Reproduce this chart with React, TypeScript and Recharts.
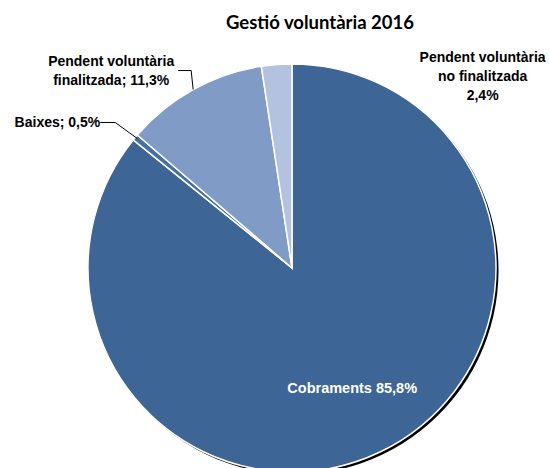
import { Cell, Pie, PieChart } from "recharts"

const names = ["Cobraments", "Baixes", "Pendent voluntària finalitzada", "Pendent voluntària no finalitzada"]
const values = [85.8, 0.5, 11.3, 2.4]
const colors = ["#3D6596", "#4470A8", "#7F9BC6", "#B3C3DF"]
const labelLines = [
  ["Cobraments 85,8%"],
  ["Baixes; 0,5%"],
  ["Pendent voluntària", "finalitzada; 11,3%"],
  ["Pendent voluntària", "no finalitzada", "2,4%"],
]

const data = names.map((name, i) => ({ name, value: values[i] }))

const W = 549
const H = 468
const CX = 292
const CY = 268
const R = 204
const RAD = Math.PI / 180
const font = "'Liberation Sans', Arial, sans-serif"

function edge(cx: number, cy: number, r: number, angle: number) {
  return { x: cx + r * Math.cos(-angle * RAD), y: cy + r * Math.sin(-angle * RAD) }
}

function renderLabel(props: any) {
  const { cx, cy, midAngle, outerRadius, index } = props
  const lines = labelLines[index]
  const txt = { fontFamily: font, fontWeight: 700, fill: "#000", dominantBaseline: "central" as const }
  if (index === 0) {
    const p = edge(cx, cy, outerRadius * 0.65, midAngle)
    return (
      <text x={p.x + 3} y={p.y} textAnchor="middle" {...txt} fill="#fff" fontSize={14.5}>
        {lines[0]}
      </text>
    )
  }
  const e = edge(cx, cy, outerRadius, midAngle)
  if (index === 1) {
    const kx = e.x - 20
    const ky = e.y - 15
    return (
      <g>
        <polyline points={`${e.x + 2},${e.y + 1} ${kx},${ky} ${kx - 15},${ky}`} fill="none" stroke="#000" strokeWidth={1} />
        <text x={kx - 15} y={ky} textAnchor="end" {...txt} fontSize={14}>
          {lines[0]}
        </text>
      </g>
    )
  }
  if (index === 2) {
    const ky = e.y - 19
    return (
      <g>
        <polyline points={`${e.x},${e.y} ${e.x - 2},${ky} ${e.x - 15},${ky}`} fill="none" stroke="#000" strokeWidth={1} />
        <text textAnchor="middle" {...txt} fontSize={14}>
          <tspan x={e.x - 82} y={e.y - 29}>{lines[0]}</tspan>
          <tspan x={e.x - 82} y={e.y - 10}>{lines[1]}</tspan>
        </text>
      </g>
    )
  }
  const lx = e.x + 206
  return (
    <text textAnchor="middle" {...txt} fontSize={14}>
      {lines.map((l, i) => (
        <tspan key={i} x={lx} y={e.y - 8 + i * 19}>
          {l}
        </tspan>
      ))}
    </text>
  )
}

export default function App() {
  return (
    <div style={{ position: "absolute", left: 0, top: 0, width: W, height: H, background: "#fff" }}>
      <PieChart width={W} height={H} margin={{ top: 0, right: 0, bottom: 0, left: 0 }}>
        <text x={320} y={29} textAnchor="middle" fontFamily="Lato, 'Open Sans', sans-serif" fontWeight={700} fontSize={18.5}>
          Gestió voluntària 2016
        </text>
        <Pie
          data={data}
          dataKey="value"
          cx={CX + 2.5}
          cy={CY + 2.5}
          outerRadius={R}
          startAngle={90}
          endAngle={-270}
          stroke="none"
          fill="#000"
          isAnimationActive={false}
          label={false}
          labelLine={false}
        />
        <Pie
          data={data}
          dataKey="value"
          cx={CX}
          cy={CY}
          outerRadius={R}
          startAngle={90}
          endAngle={-270}
          stroke="#fff"
          strokeWidth={1.5}
          isAnimationActive={false}
          label={renderLabel}
          labelLine={false}
        >
          {data.map((d, i) => (
            <Cell key={d.name} fill={colors[i]} />
          ))}
        </Pie>
      </PieChart>
    </div>
  )
}
